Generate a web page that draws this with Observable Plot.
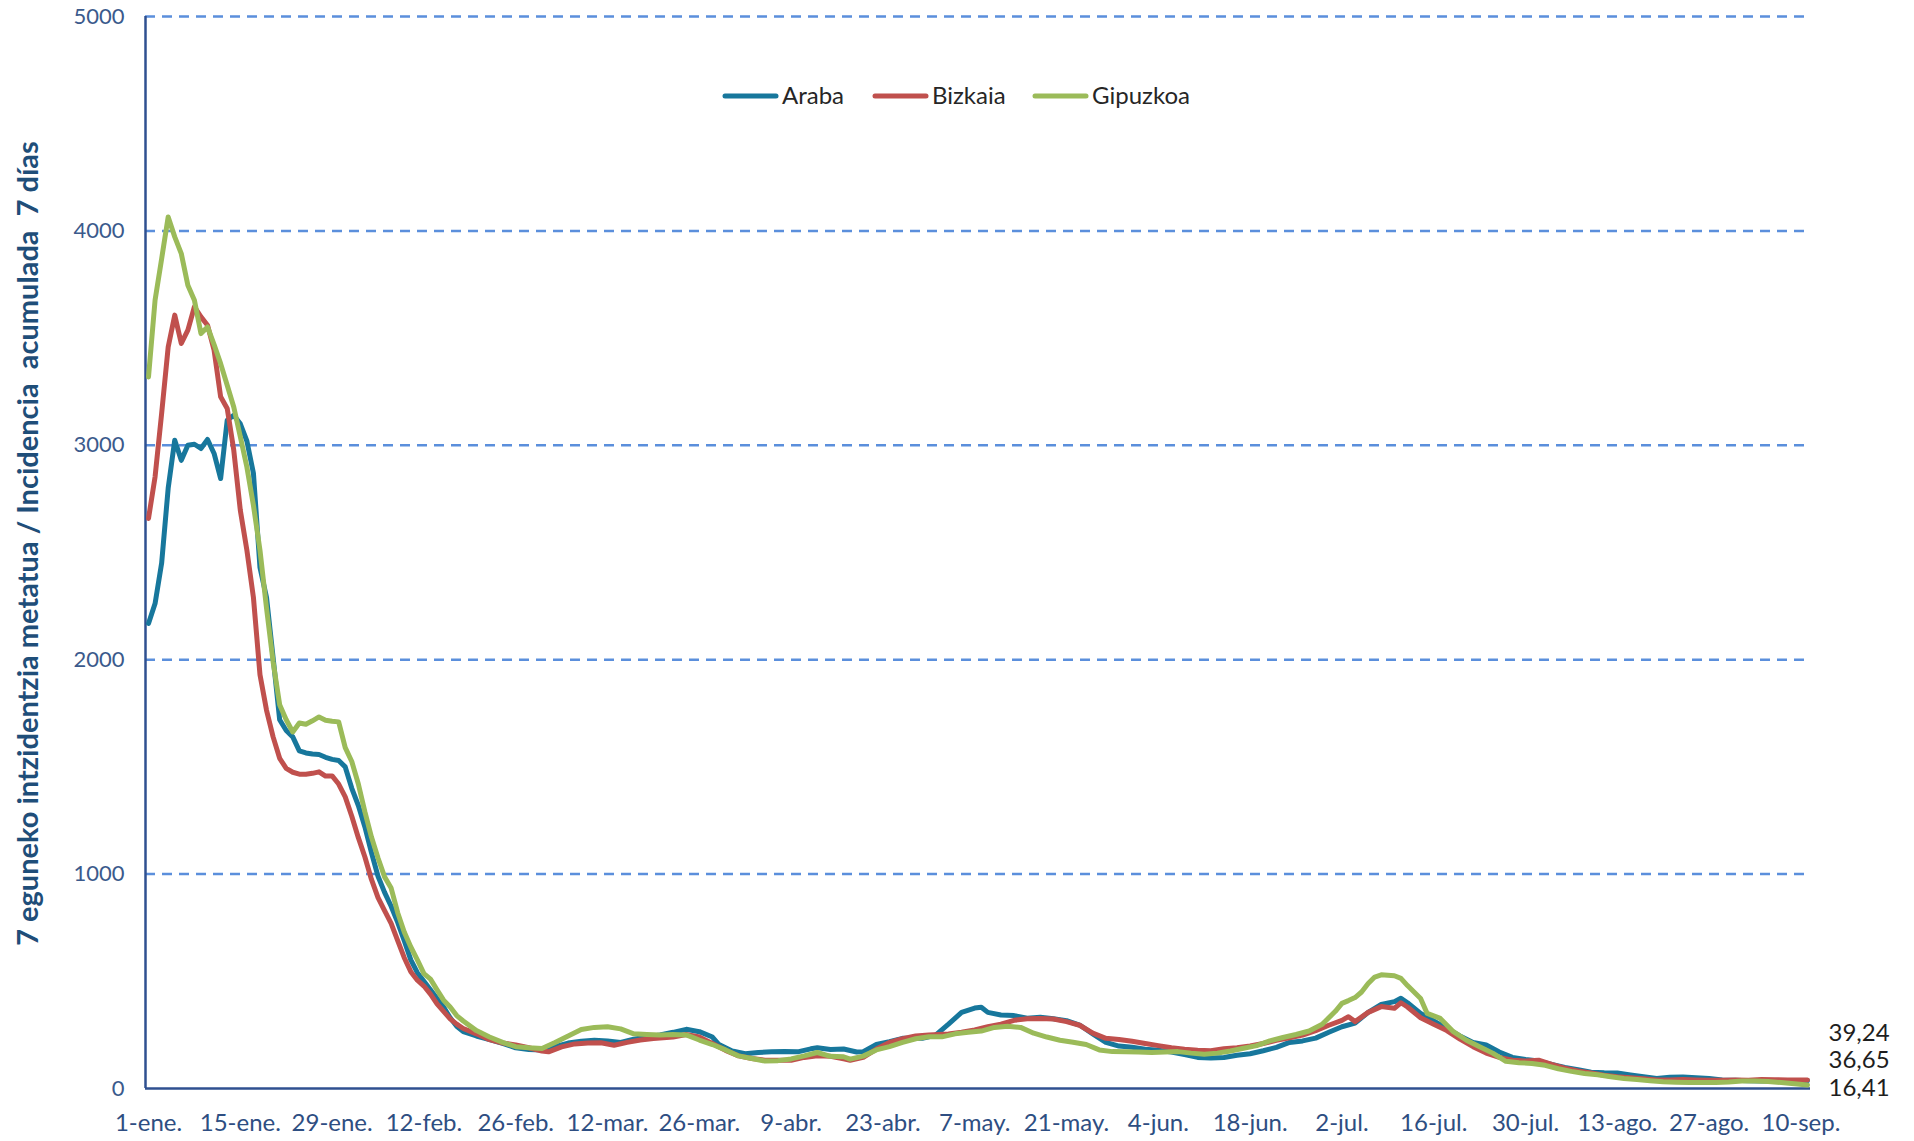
<!DOCTYPE html>
<html><head><meta charset="utf-8">
<script src="https://cdn.jsdelivr.net/npm/d3@7"></script>
<script src="https://cdn.jsdelivr.net/npm/@observablehq/plot@0.6"></script>
<style>
html,body{margin:0;padding:0;background:#fff;}
#chart{position:relative;width:1914px;height:1141px;}
</style></head><body><div id="chart"></div>
<script>
// ---- data (day offset from 1 Jan 2022, 7-day incidence) ----
const seriesNames = ["Araba", "Bizkaia", "Gipuzkoa"];
const seriesColors = ["#17779C", "#C0504D", "#9BBB59"];

const araba = [[0,2169],[1,2262],[2,2450],[3,2800],[4,3024],[5,2930],[6,3000],[7,3005],[8,2985],[9,3027],[10,2962],[11,2845],[12,3117],[13,3140],[14,3100],[15,3020],[16,2870],[17,2430],[18,2290],[19,2010],[20,1720],[21,1670],[22,1640],[23,1575],[24,1565],[25,1560],[26,1558],[27,1545],[28,1535],[29,1530],[30,1500],[31,1400],[32,1320],[33,1220],[34,1100],[35,990],[36,915],[37,850],[38,775],[39,690],[40,600],[41,540],[42,500],[43,460],[44,420],[45,380],[46,330],[47,290],[48,265],[50,245],[52,228],[54,210],[56,190],[58,182],[60,179],[62,195],[64,212],[66,220],[68,225],[70,222],[72,215],[74,230],[76,240],[78,250],[80,262],[82,276],[84,265],[86,240],[87,205],[89,175],[91,162],[93,168],[95,171],[97,172],[99,171],[101,185],[102,190],[104,182],[106,184],[108,170],[109,172],[111,205],[113,218],[115,234],[118,234],[120,248],[122,300],[124,355],[126,375],[127,379],[128,355],[130,343],[132,340],[134,328],[136,332],[138,325],[140,316],[142,296],[144,255],[146,215],[148,198],[150,192],[152,183],[154,178],[156,170],[158,158],[160,145],[162,142],[164,145],[166,155],[168,162],[170,176],[172,192],[174,215],[176,222],[178,235],[180,262],[182,288],[184,305],[186,355],[188,392],[190,405],[191,421],[192,400],[194,350],[196,315],[198,280],[200,245],[202,215],[204,203],[206,170],[208,145],[210,135],[212,128],[214,112],[216,98],[218,88],[220,76],[222,73],[224,72],[226,63],[228,55],[230,47],[232,52],[234,54],[236,50],[238,47],[240,40],[242,38],[244,36],[246,35],[248,35],[250,36],[253,36.65]];

const bizkaia = [[0,2659],[1,2853],[2,3148],[3,3459],[4,3607],[5,3475],[6,3537],[7,3646],[8,3599],[9,3560],[10,3444],[11,3226],[12,3172],[13,2977],[14,2697],[15,2511],[16,2290],[17,1930],[18,1764],[19,1640],[20,1540],[21,1493],[22,1475],[23,1466],[24,1466],[25,1470],[26,1477],[27,1457],[28,1458],[29,1420],[30,1360],[31,1270],[32,1170],[33,1080],[34,975],[35,890],[36,830],[37,770],[38,690],[39,610],[40,545],[41,505],[42,478],[43,440],[44,395],[45,360],[46,325],[47,300],[48,280],[50,255],[52,228],[54,212],[56,203],[58,190],[60,175],[61,171],[63,194],[65,208],[67,212],[69,213],[71,202],[73,215],[75,226],[77,233],[80,240],[82,252],[84,240],[86,210],[88,178],[90,152],[92,140],[94,132],[96,132],[98,132],[100,145],[102,153],[104,150],[106,138],[107,132],[109,145],[111,184],[113,215],[115,232],[117,245],[119,250],[122,254],[124,262],[126,273],[128,288],[130,300],[132,318],[134,325],[136,327],[138,324],[140,312],[142,295],[144,258],[146,234],[148,229],[150,220],[152,210],[154,200],[156,190],[158,183],[160,178],[162,176],[164,185],[166,190],[168,198],[170,210],[172,225],[174,236],[176,249],[178,270],[180,295],[182,318],[183,335],[184,312],[186,355],[188,382],[190,374],[191,400],[192,380],[194,330],[196,300],[198,270],[200,230],[202,195],[204,165],[206,145],[208,132],[210,128],[212,132],[214,112],[216,95],[218,82],[220,72],[222,62],[224,55],[226,50],[228,45],[230,40],[232,40],[234,42],[236,40],[238,39],[240,38],[242,40],[244,39],[246,42],[248,41],[250,40],[253,39.24]];

const gipuzkoa = [[0,3319],[1,3677],[2,3870],[3,4065],[4,3972],[5,3894],[6,3747],[7,3677],[8,3521],[9,3552],[10,3470],[11,3381],[12,3280],[13,3179],[14,3040],[15,2899],[16,2720],[17,2510],[18,2240],[19,1990],[20,1790],[21,1720],[22,1663],[23,1705],[24,1699],[25,1715],[26,1733],[27,1718],[28,1713],[29,1710],[30,1590],[31,1525],[32,1420],[33,1290],[34,1173],[35,1075],[36,987],[37,935],[38,820],[39,730],[40,660],[41,600],[42,536],[43,510],[44,460],[45,412],[46,380],[47,340],[48,315],[50,270],[52,240],[54,215],[56,195],[58,190],[60,187],[62,215],[64,245],[66,275],[68,285],[70,288],[72,278],[74,255],[76,252],[78,250],[80,252],[82,250],[84,226],[86,205],[88,180],[90,152],[92,140],[94,128],[96,130],[98,138],[100,152],[102,168],[104,150],[106,148],[107,137],[109,151],[111,180],[113,195],[115,215],[117,232],[119,241],[121,241],[123,255],[125,262],[127,268],[129,285],[131,290],[133,285],[135,258],[137,240],[139,225],[141,216],[143,205],[145,180],[147,172],[149,171],[151,170],[153,168],[155,170],[157,172],[159,165],[161,160],[163,165],[165,175],[167,188],[169,200],[171,222],[173,238],[175,252],[177,268],[179,300],[181,360],[182,397],[183,410],[184,424],[185,450],[186,490],[187,520],[188,530],[190,526],[191,514],[192,480],[194,420],[195,350],[197,327],[199,265],[201,225],[203,195],[205,165],[207,127],[209,120],[211,117],[213,108],[215,92],[217,80],[219,70],[221,64],[223,55],[225,47],[227,42],[229,36],[231,31],[233,29],[235,28],[237,28],[239,28],[241,30],[243,35],[245,35],[247,33],[249,28],[251,22],[253,16.41]];

const endLabels = ["36,65", "39,24", "16,41"];
const endLabelShift = [-20, -47, 3];

const xTickDays = [0,14,28,42,56,70,84,98,112,126,140,154,168,182,196,210,224,238,252];
const xTickLabels = ["1-ene.","15-ene.","29-ene.","12-feb.","26-feb.","12-mar.","26-mar.","9-abr.","23-abr.","7-may.","21-may.","4-jun.","18-jun.","2-jul.","16-jul.","30-jul.","13-ago.","27-ago.","10-sep."];
const yTicks = [0, 1000, 2000, 3000, 4000, 5000];
const yTitle = "7 eguneko intzidentzia metatua / Incidencia  acumulada  7 días";

// ---- build ----
const START = Date.UTC(2022, 0, 1);
const DAY = 864e5;
const toDate = d => new Date(START + d * DAY);

const allSeries = [araba, bizkaia, gipuzkoa];
const rows = [];
allSeries.forEach((arr, i) => arr.forEach(([d, v]) => rows.push({series: seriesNames[i], date: toDate(d), value: v})));

const lastRows = allSeries.map((arr, i) => {
  const [d, v] = arr[arr.length - 1];
  return {series: seriesNames[i], date: toDate(d), value: v, label: endLabels[i]};
});

const tickDates = xTickDays.map(toDate);
const tickLabelMap = new Map(tickDates.map((d, i) => [+d, xTickLabels[i]]));

const axisColor = "#2F5090";
const font = "Lato, 'Open Sans', sans-serif";

const plot = Plot.plot({
  width: 1914,
  height: 1141,
  marginLeft: 145,
  marginRight: 104,
  marginTop: 16,
  marginBottom: 53,
  style: {fontFamily: font, background: "white", overflow: "visible"},
  x: {type: "utc", domain: [toDate(-0.46), toDate(253.46)]},
  y: {domain: [0, 5000]},
  color: {domain: seriesNames, range: seriesColors},
  marks: [
    Plot.gridY(yTicks.filter(v => v > 0), {stroke: "#5B8FDC", strokeOpacity: 1, strokeWidth: 2.5, strokeDasharray: "10,7"}),
    Plot.ruleY([0], {stroke: axisColor, strokeWidth: 2.5}),
    Plot.ruleX([toDate(-0.46)], {y1: 0, y2: 5000, stroke: axisColor, strokeWidth: 2.5}),
    Plot.axisY({ticks: yTicks, tickSize: 0, tickPadding: 21, fontSize: 22, color: "#3B5A8C", label: null, tickFormat: d => String(d)}),
    Plot.axisX({ticks: tickDates, tickSize: 0, tickPadding: 25, fontSize: 24, color: "#2E4E82", label: null, tickFormat: d => tickLabelMap.get(+d)}),
    Plot.line(rows, {x: "date", y: "value", z: "series", stroke: "series", strokeWidth: 5, strokeLinejoin: "round", strokeLinecap: "round"}),
    ...lastRows.map((r, i) => Plot.text([r], {x: "date", y: "value", text: "label", dx: 21, dy: endLabelShift[i], textAnchor: "start", fontSize: 24, fill: "#1E1E1E"})),
    Plot.text([yTitle], {frameAnchor: "left", text: d => d, rotate: -90, textAnchor: "middle", dx: -117, dy: -9, fontSize: 29, fontWeight: "bold", fill: "#1F4E79"})
  ]
});

document.getElementById("chart").appendChild(plot);

// legend inside the plot area
const svg = d3.select(plot);
const legendStarts = [723, 873, 1033];
const lg = svg.append("g").attr("font-family", font).attr("font-size", 24).attr("fill", "#262626").attr("text-anchor", "start");
seriesNames.forEach((name, i) => {
  const x0 = legendStarts[i];
  lg.append("line").attr("x1", x0 + 2).attr("x2", x0 + 53).attr("y1", 96).attr("y2", 96)
    .attr("stroke", seriesColors[i]).attr("stroke-width", 5).attr("stroke-linecap", "round");
  lg.append("text").attr("x", x0 + 59).attr("y", 96).attr("dy", "0.35em").text(name);
});
</script>
</body></html>
